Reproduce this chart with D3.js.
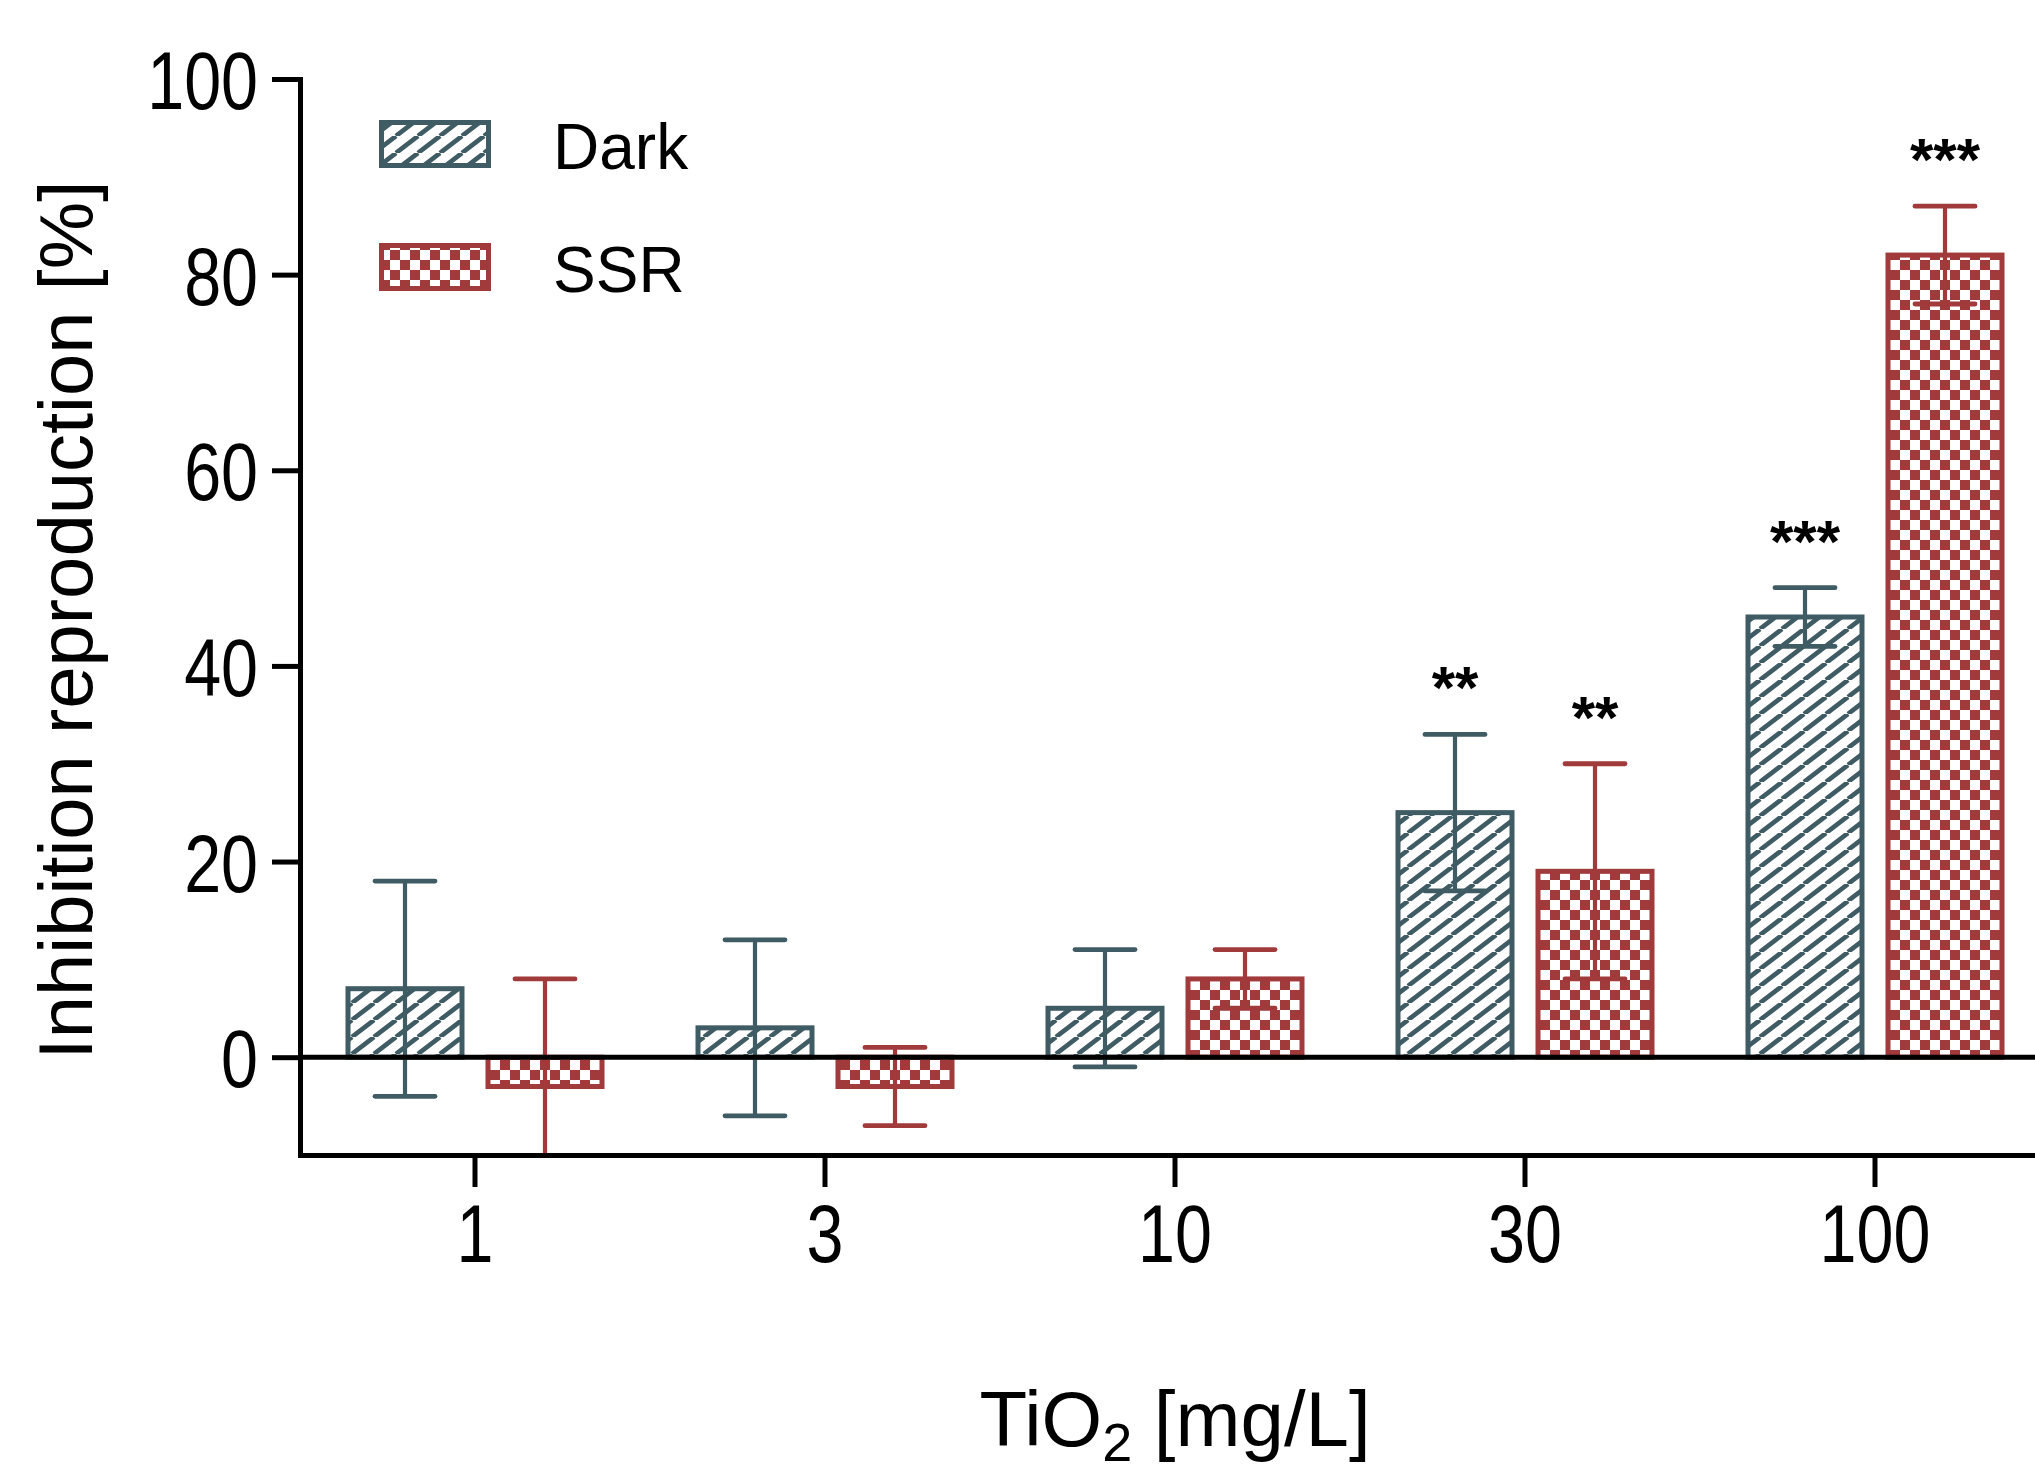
<!DOCTYPE html>
<html>
<head>
<meta charset="utf-8">
<script src="https://cdn.jsdelivr.net/npm/d3@7"></script>
<style>
  body { margin: 0; background: #fff; }
  text { font-family: "Liberation Sans", Arial, sans-serif; fill: #000; }
</style>
</head>
<body>
<svg id="chart" width="2035" height="1475"></svg>
<script>
// data
const categories = ["1", "3", "10", "30", "100"];
const seriesNames = ["Dark", "SSR"];
const darkMeans = [7, 3, 5, 25, 45];
const darkErrors = [11, 9, 6, 8, 3];
const ssrMeans = [-3, -3, 8, 19, 82];
const ssrErrors = [11, 4, 3, 11, 5];
const darkStars = ["", "", "", "**", "***"];
const ssrStars = ["", "", "", "**", "***"];
const yTicks = [0, 20, 40, 60, 80, 100];

const darkColor = "#3f5b63";
const ssrColor = "#a03a3b";

const svg = d3.select("#chart");

const y = d3.scaleLinear().domain([-10, 100]).range([1155, 79]);
const x0 = d3.scaleBand().domain(categories).range([300, 2050])
    .paddingInner(0.26).paddingOuter(0.13);
const x1 = d3.scaleBand().domain(seriesNames).range([0, x0.bandwidth()])
    .paddingInner(0.15);

// fill patterns
const defs = svg.append("defs");
const hatch = defs.append("pattern")
    .attr("id", "hatch")
    .attr("patternUnits", "userSpaceOnUse")
    .attr("width", 22).attr("height", 17);
hatch.append("rect").attr("width", 22).attr("height", 17).attr("fill", "#fff");
hatch.append("path")
    .attr("d", "M-22,17L0,0M0,17L22,0M22,17L44,0")
    .attr("stroke", darkColor).attr("stroke-width", 4.6);

const checker = defs.append("pattern")
    .attr("id", "checker")
    .attr("patternUnits", "userSpaceOnUse")
    .attr("width", 20).attr("height", 20);
checker.append("rect").attr("width", 20).attr("height", 20).attr("fill", "#fff");
checker.append("rect").attr("width", 10).attr("height", 10).attr("fill", ssrColor);
checker.append("rect").attr("x", 10).attr("y", 10).attr("width", 10).attr("height", 10).attr("fill", ssrColor);

defs.append("clipPath").attr("id", "plotClip")
  .append("rect").attr("x", 300).attr("y", 0).attr("width", 1800).attr("height", 1155);

const series = [
  { name: "Dark", means: darkMeans, errors: darkErrors, stars: darkStars, color: darkColor, fill: "url(#hatch)" },
  { name: "SSR", means: ssrMeans, errors: ssrErrors, stars: ssrStars, color: ssrColor, fill: "url(#checker)" }
];

const rows = [];
series.forEach(s => {
  categories.forEach((c, i) => {
    rows.push({ cat: c, name: s.name, mean: s.means[i], err: s.errors[i], star: s.stars[i], color: s.color, fill: s.fill });
  });
});

const sw = 5;
const bw = x1.bandwidth();

const plot = svg.append("g").attr("clip-path", "url(#plotClip)");

// bars
plot.selectAll("rect.bar")
    .data(rows)
    .enter()
    .append("rect")
    .attr("class", "bar")
    .attr("x", d => x0(d.cat) + x1(d.name) + sw / 2)
    .attr("width", bw - sw)
    .attr("y", d => Math.min(y(d.mean), y(0)))
    .attr("height", d => Math.abs(y(d.mean) - y(0)))
    .attr("fill", d => d.fill)
    .attr("stroke", d => d.color)
    .attr("stroke-width", sw);

// error bars
const capW = 60;
const eb = plot.selectAll("g.err")
    .data(rows)
    .enter()
    .append("g")
    .attr("class", "err")
    .attr("stroke", d => d.color);
const cx = d => x0(d.cat) + x1(d.name) + bw / 2;
eb.append("line")
    .attr("stroke-width", 4.2)
    .attr("x1", cx).attr("x2", cx)
    .attr("y1", d => y(d.mean + d.err)).attr("y2", d => y(d.mean - d.err));
eb.append("line")
    .attr("stroke-width", 4.8)
    .attr("x1", d => cx(d) - capW / 2).attr("x2", d => cx(d) + capW / 2)
    .attr("y1", d => y(d.mean + d.err)).attr("y2", d => y(d.mean + d.err))
    .attr("stroke-linecap", "round");
eb.append("line")
    .attr("stroke-width", 4.8)
    .attr("x1", d => cx(d) - capW / 2).attr("x2", d => cx(d) + capW / 2)
    .attr("y1", d => y(d.mean - d.err)).attr("y2", d => y(d.mean - d.err))
    .attr("stroke-linecap", "round");

// zero line
svg.append("line")
    .attr("x1", 300).attr("x2", 2035)
    .attr("y1", y(0)).attr("y2", y(0))
    .attr("stroke", "#000").attr("stroke-width", 5);

// significance stars
svg.selectAll("text.star")
    .data(rows.filter(d => d.star))
    .enter()
    .append("text")
    .attr("class", "star")
    .attr("x", cx)
    .attr("y", d => y(d.mean + d.err) - 26)
    .attr("text-anchor", "middle")
    .style("font-size", "60px")
    .style("font-weight", "bold")
    .text(d => d.star);

// axes
const squeeze = 0.81;
const yAxis = d3.axisLeft(y).tickValues(yTicks).tickSize(28).tickSizeOuter(0).tickPadding(14);
const gy = svg.append("g").attr("transform", "translate(300,0)").call(yAxis);
gy.select(".domain").attr("stroke-width", 5).attr("stroke-linecap", "square");
gy.selectAll(".tick line").attr("stroke-width", 5);
gy.selectAll(".tick text")
    .attr("x", -42 / squeeze)
    .attr("dy", "0.36em")
    .attr("transform", `scale(${squeeze},1)`)
    .style("font-size", "82px");

const xAxis = d3.axisBottom(x0).tickSize(32).tickSizeOuter(0);
const gx = svg.append("g").attr("transform", "translate(0,1155)").call(xAxis);
gx.select(".domain").attr("stroke-width", 5).attr("stroke-linecap", "square");
gx.selectAll(".tick line").attr("stroke-width", 5);
gx.selectAll(".tick text")
    .attr("y", 107)
    .attr("dy", 0)
    .attr("transform", `scale(${squeeze},1)`)
    .style("font-size", "82px");
svg.selectAll(".tick text").attr("fill", "#000").attr("font-family", null);
svg.selectAll(".domain, .tick line").attr("stroke", "#000");

// axis titles
svg.append("text")
    .attr("transform", "translate(92,620) rotate(-90)")
    .attr("text-anchor", "middle")
    .style("font-size", "76px")
    .text("Inhibition reproduction [%]");

const xt = svg.append("text")
    .attr("x", 1175)
    .attr("y", 1446)
    .attr("text-anchor", "middle")
    .style("font-size", "78px");
xt.append("tspan").text("TiO");
xt.append("tspan").attr("dy", 15).style("font-size", "54px").text("2");
xt.append("tspan").attr("dy", -15).text(" [mg/L]");

// legend
const legend = svg.append("g");
series.forEach((s, i) => {
  const ly = 122.5 + i * 123;
  legend.append("rect")
      .attr("x", 381.5).attr("y", ly)
      .attr("width", 107).attr("height", 43)
      .attr("fill", s.fill)
      .attr("stroke", s.color)
      .attr("stroke-width", sw);
  legend.append("text")
      .attr("x", 553).attr("y", ly + 46.5)
      .style("font-size", "64px")
      .text(s.name);
});
</script>
</body>
</html>
